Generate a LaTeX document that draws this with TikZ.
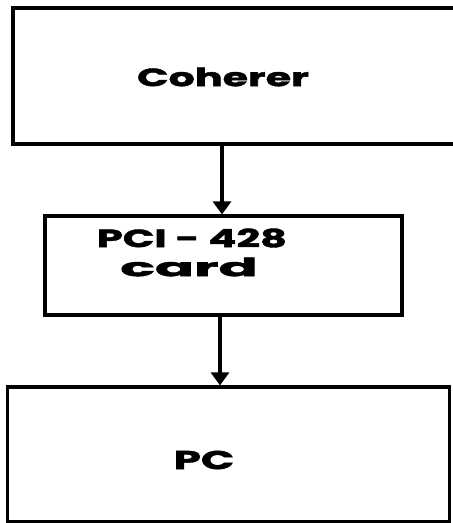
\documentclass[tikz,border=0pt]{standalone}
\usepackage{fontspec}
\usepackage{graphicx}
\setmainfont{Poppins}[BoldFeatures={FakeBold=1.5}]
\usetikzlibrary{arrows.meta}
\begin{document}
\begin{tikzpicture}[x=1pt,y=-1pt,
  box/.style={draw=black,line width=3.2pt,fill=none,inner sep=0pt},
  lbl/.style={inner sep=0pt,font=\bfseries},
  arr/.style={line width=3.4pt,-{Triangle[width=18pt,length=13pt]}}]
\useasboundingbox (0,0) rectangle (453,523);
\clip (0,0) rectangle (453,523);
\node[box,minimum width=447pt,minimum height=136pt] (coh) at (236.5,76) {};
\node[box,minimum width=357pt,minimum height=99pt] (pci) at (223.5,265.5) {};
\node[box,minimum width=442pt,minimum height=135pt] (pc) at (228.5,454.5) {};
\node[lbl] (tcoh) at (223,77) {\fontsize{25pt}{25pt}\selectfont\scalebox{1.65}[1]{Coherer}};
\node[lbl] (tpci1) at (192,238) {\fontsize{25pt}{25pt}\selectfont\scalebox{1.66}[1]{PCI - 428}};
\node[lbl] (tpci2) at (189,267) {\fontsize{25pt}{25pt}\selectfont\scalebox{2.3}[1]{card}};
\node[lbl] (tpc) at (204,460) {\fontsize{26pt}{26pt}\selectfont\scalebox{1.68}[1]{PC}};
\coordinate (a1) at (222,0);
\coordinate (a2) at (220,0);
\draw[arr] (coh.south -| a1) -- (pci.north -| a1);
\draw[arr] (pci.south -| a2) -- (pc.north -| a2);
\end{tikzpicture}
\end{document}
